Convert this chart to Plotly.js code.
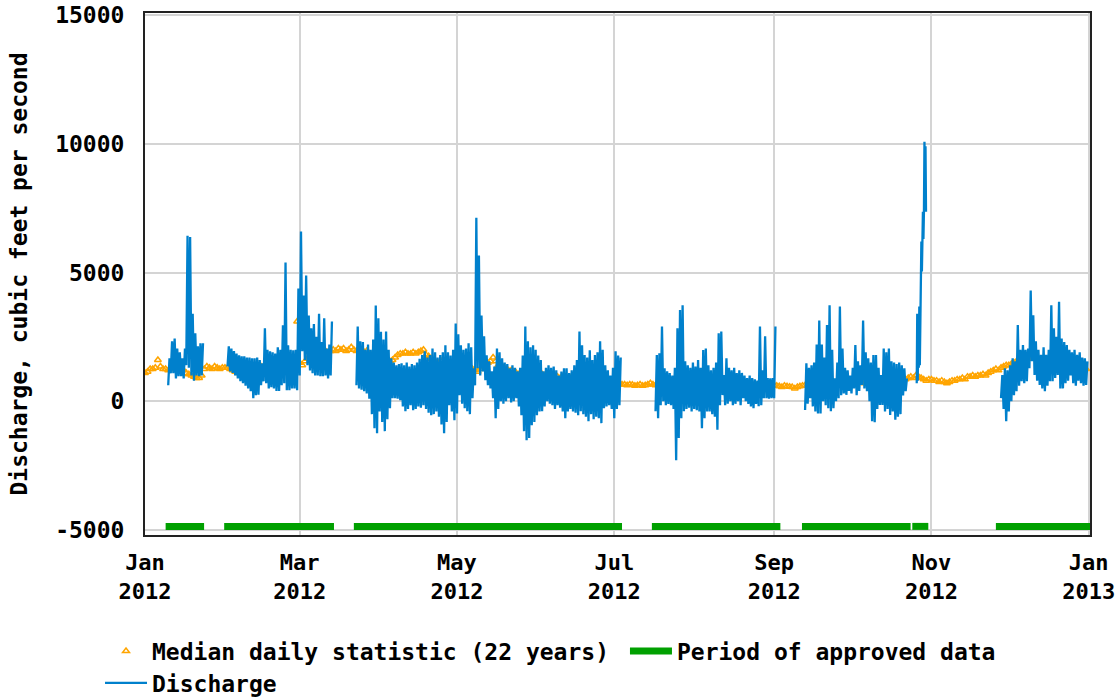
<!DOCTYPE html>
<html>
<head>
<meta charset="utf-8">
<script src="https://cdn.plot.ly/plotly-3.0.1.min.js"></script>
<style>html,body{margin:0;padding:0;background:#fff;}#chart{width:1120px;height:698px;}</style>
</head>
<body>
<div id="chart"></div>
<script>
// ---------------- DATA ----------------
const medianStart = '2012-01-01';
const medJan = [1100,1150,1250,1250,1300,1600,1350,1250,1250,1200,1250,1300,1250,1200,1250,1200,1100,1050,1000,950,900,900,1000,1250,1350,1300,1250,1350,1300,1250,1300];
const medFeb = [1300,1300,1250,1200,1150,1100,1100,1150,1200,1200,1250,1250,1300,1300,1350,1350,1400,1400,1450,1500,1550,1500,1600,1650,1700,1650,1600,1600,3100];
const medMar = [1500,1400,1550,1650,1700,1750,1800,1800,1850,1900,1950,1900,1950,2000,1950,2050,2000,2050,1950,2000,2100,2000,1950,2050,2000,1900,1950,1850,1800,1700,1650];
const medApr = [1600,1550,1550,1500,1550,1600,1700,1800,1850,1850,1900,1850,1850,1900,1850,1900,1950,2000,1800,1750,1650,1550,1500,1500,1550,1450,1450,1400,1450,1400];
const medMay = [1400,1450,1500,1450,1400,1300,1250,1200,1150,1250,1350,1450,1500,1550,1700,1550,1400,1350,1300,1250,1200,1200,1150,1100,1050,1050,1000,1000,1050,1100,1050];
const medJun = [1050,1000,1050,1000,1000,950,1000,950,950,900,950,900,900,900,850,900,850,850,850,800,850,800,800,800,800,750,750,800,750,750];
const medJul = [700,700,680,650,650,620,650,640,600,620,650,600,620,650,700,650,620,650,640,620,650,630,620,600,650,620,600,620,650,620,600];
const medAug = [650,620,650,600,620,650,620,600,650,620,640,600,620,650,620,600,620,650,630,600,620,650,620,600,620,600,650,620,600,620,600];
const medSep = [620,600,580,550,600,580,560,550,500,550,580,600,620,600,650,620,600,650,620,650,700,650,620,650,700,650,680,700,650,700];
const medOct = [700,720,700,750,720,700,750,720,750,700,750,780,750,800,750,780,800,750,800,820,800,850,900,950,900,1000,950,900,850,800,850];
const medNov = [850,800,800,750,800,750,700,750,800,800,850,850,900,850,950,950,1000,950,1000,1000,1050,1000,1100,1150,1200,1250,1200,1300,1350,1400];
const medDec = [1400,1450,1500,1550,1600,1650,1600,1650,1700,1650,1700,1650,1600,1550,1500,1450,1500,1400,1450,1400,1350,1400,1350,1300,1350,1300,1250,1300,1250,1200,1250];

// Discharge: daily low / high per continuous segment
const seg1Start = '2012-01-10';
const seg1Low  = [620,1085,1085,890,970,970,890,1400,1300,1000,800,1000,970,1000];
const seg1High = [1670,2330,2440,2050,1900,1670,2050,6430,6380,3400,2640,2130,2250,2250];

const seg2Start = '2012-02-02';
const seg2Low  = [1350,1160,1100,1000,890,775,700,600,500,390,120,230,250,620,775,700,500,550,500,400,400,620,700,430,430,500,500,430,1000,1940,1600,1400,1200,1085,1000,1000,970,970,1000,890,1000];
const seg2High = [2130,2050,1950,1850,1780,1750,1750,1700,1700,1670,1670,1700,1600,1470,2830,2000,1940,1900,1850,2100,2000,2950,5390,2170,2000,1980,2000,4380,6590,4110,4880,3330,2830,3000,2500,3400,2300,3220,2050,2200,3100];

const seg3Start = '2012-03-23';
const seg3Low = [620,500,450,390,300,100,-500,-1050,-1240,-400,-800,-1160,-700,-270,
 120,120,100,40,-200,-390,-300,-150,-350,-300,
 -200,-250,-150,-300,-450,-540,-500,-400,-600,-900,
 -1240,-800,-150,-400,-740,-470,230,-100,-270,-390,
 -500,120,620,1280,1000,1160,815,620,500,120,
 -660,-300,0,-100,0,120,-50,0,120,-200,
 -540,-1160,-1510,-1430,-930,-800,-540,-400,-390,-200,
 0,-100,-150,-300,-150,-250,-400,-660,-400,-300,
 -400,-450,-540,-390,-500,-600,-780,-500,-700,-600,
 -660,-850,-270,-200,-150,-300,-660,-300,-150];
const seg3High = [2900,2330,2300,2000,2200,2000,2400,3720,3220,2700,2400,2710,2000,1670,
 1500,1400,1450,1470,1400,1500,1350,1450,1400,1500,
 1650,1800,1940,1700,1800,2050,1900,1700,1800,1900,
 2170,1900,1780,2000,3020,2600,2170,2000,2050,2250,
 2100,1280,7130,5660,3330,2520,1780,1550,1160,1350,
 2050,1900,1670,1500,1450,1280,1400,1300,1160,1300,
 1780,2900,2330,2100,2170,2000,1780,1600,1160,1300,
 1400,1300,1350,1200,1000,1150,1280,1280,1100,1200,
 1400,1600,2710,2170,1800,1700,1980,1600,1800,1900,
 2330,2000,1400,1200,1000,1300,1940,1780,1700];

const seg4Start = '2012-07-17';
const seg4Low  = [-390,-660,-150,0,-150,-100,-150,-300,-2290,-1430,-660,-390,-300,-250,-400,-300,-350,-400,-1050,-660,-400,-400,-500,-600,-1110,-150,240,-150,-100,0,-150,-100,0,-150,120,0,-100,-200,-270,-100,-190,-150,120,120,100,120,120];
const seg4High = [1800,1860,2900,1280,1160,1100,1000,1300,2830,3540,3730,1550,1400,1300,1500,1350,1600,1300,1990,2050,1400,1200,1300,1500,2640,2710,1020,1670,1300,1200,1300,1100,1200,1100,1000,900,1000,900,850,800,2900,1200,2520,900,890,900,2900];

const seg5Start = '2012-09-13';
const seg5Low  = [-340,-100,120,-200,-400,-470,-470,0,-150,-270,-390,-270,0,120,230,300,250,400,300,500,230,400,630,500,390,0,-780,-810,-300,-140,-140,-400,-300,-530,-400,-720,-600,-500,230,390];
const seg5High = [1470,1300,1400,1500,2200,3140,2200,1700,2960,3730,2000,890,1500,3680,2050,1300,1200,1000,1300,2180,1550,1400,3140,1900,1670,1500,1800,1800,1300,1020,2050,1900,2050,1550,1500,1450,1500,1400,1280,890];

const stormTimes = ['2012-10-26 07:12','2012-10-26 12:00','2012-10-26 16:48','2012-10-26 21:36','2012-10-27 02:24','2012-10-27 07:12','2012-10-27 12:00','2012-10-27 16:48','2012-10-27 21:36','2012-10-28 02:24','2012-10-28 07:12','2012-10-28 12:00','2012-10-28 16:48','2012-10-28 21:36','2012-10-29 02:24','2012-10-29 07:12','2012-10-29 12:00','2012-10-29 16:48','2012-10-29 21:36'];
const stormValues = [700,3400,800,3300,1300,3680,1400,3600,5100,6200,5040,6100,7360,6300,7400,10080,7500,9900,7360];

const seg6Start = '2012-11-28';
const seg6Low  = [120,-300,-780,-400,0,230,390,600,775,700,775,1280,1550,1020,800,630,500,390,600,775,775,900,1020,500,500,700,800,1000,700,600,800,700,600,630];
const seg6High = [1020,1280,1200,1400,1670,1550,2960,2000,2180,2000,2050,4300,3340,2330,2000,1800,2100,1800,2000,3730,2830,2500,3860,2440,2300,2180,2000,1900,2000,1800,1900,1700,1670,1550];

const approvedStart = ['2012-01-09 00:00','2012-01-31 17:00','2012-03-22 00:00','2012-07-15 14:00','2012-09-11 19:00','2012-10-24 14:00','2012-11-26 00:00'];
const approvedEnd   = ['2012-01-23 22:00','2012-03-14 07:00','2012-07-04 00:00','2012-09-03 10:00','2012-10-23 22:00','2012-10-30 19:00','2013-01-01 12:00'];

const xTickVals = ['2012-01-01','2012-03-01','2012-05-01','2012-07-01','2012-09-01','2012-11-01','2013-01-01'];
const xTickText = ['Jan<br>2012','Mar<br>2012','May<br>2012','Jul<br>2012','Sep<br>2012','Nov<br>2012','Jan<br>2013'];
const yTickVals = [-5000,0,5000,10000,15000];
const yTickText = ['-5000','0','5000','10000','15000'];

// ---------------- BUILD ----------------
const DAY = 86400000;
function toMs(s){ const p=s.split(/[- :]/).map(Number); return Date.UTC(p[0],p[1]-1,p[2],p[3]||0,p[4]||0); }
function fmt(ms){ return new Date(ms).toISOString().slice(0,16).replace('T',' '); }

const medianVals = [].concat(medJan,medFeb,medMar,medApr,medMay,medJun,medJul,medAug,medSep,medOct,medNov,medDec);
const medianX = medianVals.map((v,i)=>fmt(toMs(medianStart)+i*DAY));

const dX=[], dY=[];
function addSeg(start, lows, highs){
  const t0=toMs(start);
  for(let i=0;i<lows.length;i++){
    dX.push(fmt(t0+i*DAY)); dY.push(lows[i]);
    dX.push(fmt(t0+i*DAY+DAY/2)); dY.push(highs[i]);
  }
  dX.push(null); dY.push(null);
}
addSeg(seg1Start,seg1Low,seg1High);
addSeg(seg2Start,seg2Low,seg2High);
addSeg(seg3Start,seg3Low,seg3High);
addSeg(seg4Start,seg4Low,seg4High);
addSeg(seg5Start,seg5Low,seg5High);
stormTimes.forEach((t,i)=>{dX.push(t); dY.push(stormValues[i]);});
dX.push(null); dY.push(null);
addSeg(seg6Start,seg6Low,seg6High);

const APPROVED_LEVEL = -4860;
const aX=[], aY=[];
approvedStart.forEach((s,i)=>{ aX.push(s,approvedEnd[i],null); aY.push(APPROVED_LEVEL,APPROVED_LEVEL,null); });

const FONT = {family:'DejaVu Sans Mono, monospace', size:23, color:'#000', weight:'bold'};
const XFONT = {family:'DejaVu Sans Mono, monospace', size:22, color:'#000', weight:'bold'};

const traces = [
  {type:'scatter', mode:'markers', name:'Median daily statistic (22 years)', x:medianX, y:medianVals,
   marker:{symbol:'triangle-up-open', size:6, color:'#ffa500', line:{width:1.5, color:'#ffa500'}},
   legend:'legend', hoverinfo:'skip'},
  {type:'scatter', mode:'lines', name:'Period of approved data', x:aX, y:aY,
   line:{color:'#00a000', width:7}, connectgaps:false, legend:'legend2', hoverinfo:'skip'},
  {type:'scatter', mode:'lines', name:'Discharge', x:dX, y:dY,
   line:{color:'#0080cc', width:2.3}, connectgaps:false, legend:'legend3', hoverinfo:'skip'}
];

const legendBase = {orientation:'h', xanchor:'left', yanchor:'middle', bgcolor:'rgba(0,0,0,0)', borderwidth:0, font:FONT, itemwidth:42, itemclick:false, itemdoubleclick:false};

const layout = {
  width:1120, height:698,
  margin:{l:145, r:30, t:13, b:163, autoexpand:false},
  paper_bgcolor:'#ffffff', plot_bgcolor:'#ffffff',
  font:FONT,
  showlegend:true,
  xaxis:{type:'date', range:['2012-01-01','2013-01-01 12:00'], tickmode:'array', tickvals:xTickVals, ticktext:xTickText,
    showgrid:true, gridcolor:'#d4d4d4', gridwidth:2, showline:true, mirror:true, linecolor:'#222', linewidth:2,
    ticks:'', zeroline:false, tickfont:XFONT, ticklabelstandoff:7, fixedrange:true},
  yaxis:{range:[-5194,15078], tickmode:'array', tickvals:yTickVals, ticktext:yTickText,
    showgrid:true, gridcolor:'#d4d4d4', gridwidth:2, showline:true, mirror:true, linecolor:'#222', linewidth:2,
    ticks:'', zeroline:false, tickfont:FONT, ticklabelstandoff:14, fixedrange:true,
    title:{text:'Discharge, cubic feet per second', font:FONT, standoff:21}},
  legend:Object.assign({}, legendBase, {x:-0.0476, y:-0.2222}),
  legend2:Object.assign({}, legendBase, {x:0.5079, y:-0.2222}),
  legend3:Object.assign({}, legendBase, {x:-0.0476, y:-0.2835})
};

Plotly.newPlot('chart', traces, layout, {displayModeBar:false, staticPlot:true});
</script>
</body>
</html>
